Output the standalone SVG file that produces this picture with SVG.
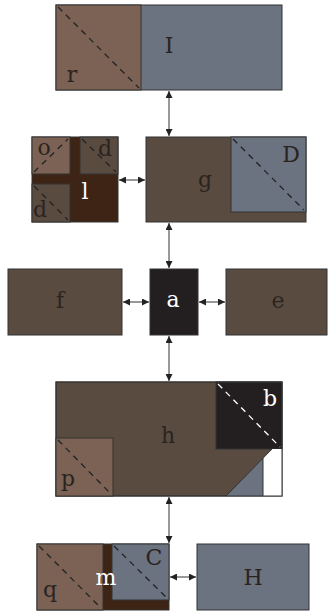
<svg xmlns="http://www.w3.org/2000/svg" width="328" height="611" viewBox="0 0 328 611">
<defs>
<marker id="ah" viewBox="0 0 10 10" refX="10" refY="5" markerWidth="7" markerHeight="7" orient="auto-start-reverse" markerUnits="userSpaceOnUse">
<path d="M0,0 L10,5 L0,10 z" fill="#222"/>
</marker>
<style>
.b{stroke:#333;stroke-width:1}
.dk{fill:#5a4b41}
.lt{fill:#7b6254}
.gr{fill:#6b7280}
.br{fill:#3e2415}
.bk{fill:#231f20}
.ds{stroke:#222;stroke-width:1.3;stroke-dasharray:6 5;fill:none}
.dw{stroke:#fff;stroke-width:1.3;stroke-dasharray:6 5;fill:none}
text{font-family:"DejaVu Serif","Liberation Serif",serif;font-size:22px;fill:#2a2420;text-anchor:middle}
.w{fill:#fff}
.c{stroke:#333;stroke-width:1;fill:none;marker-start:url(#ah);marker-end:url(#ah)}
</style>
</defs>
<g id="connectors">
<line class="c" x1="169" y1="91" x2="169" y2="136"/>
<line class="c" x1="169" y1="223" x2="169" y2="268"/>
<line class="c" x1="169" y1="336" x2="169" y2="381"/>
<line class="c" x1="169" y1="497" x2="169" y2="543"/>
<line class="c" x1="119" y1="180" x2="145" y2="180"/>
<line class="c" x1="123" y1="302" x2="149" y2="302"/>
<line class="c" x1="199" y1="302" x2="225" y2="302"/>
<line class="c" x1="170" y1="577" x2="196" y2="577"/>
</g>
<g id="node-I">
<rect class="b gr" x="56" y="5" width="226" height="85"/>
<rect class="b lt" x="56" y="5" width="85" height="85"/>
<line class="ds" x1="58" y1="7" x2="139" y2="88"/>
<text x="169" y="53">I</text>
<text x="72" y="82">r</text>
</g>
<g id="node-l">
<rect class="b br" x="32" y="137" width="86" height="85"/>
<rect class="b lt" x="32" y="137" width="38" height="37"/>
<line class="ds" x1="34" y1="172" x2="68" y2="139"/>
<rect class="b dk" x="80" y="137" width="38" height="37"/>
<line class="ds" x1="82" y1="139" x2="116" y2="172"/>
<rect class="b dk" x="32" y="184" width="38" height="38"/>
<line class="ds" x1="34" y1="186" x2="68" y2="220"/>
<text x="44" y="155">o</text>
<text x="105" y="156">d</text>
<text x="40" y="217">d</text>
<text class="w" x="85" y="199">l</text>
</g>
<g id="node-g">
<rect class="b dk" x="146" y="137" width="160" height="85"/>
<rect class="b gr" x="231" y="137" width="75" height="75"/>
<line class="ds" x1="233" y1="139" x2="304" y2="210"/>
<text x="205" y="187">g</text>
<text x="291" y="162">D</text>
</g>
<g id="node-f">
<rect class="b dk" x="8" y="269" width="114" height="66"/>
<text x="60" y="308">f</text>
</g>
<g id="node-a">
<rect class="b bk" x="150" y="269" width="48" height="66"/>
<text class="w" x="173" y="307">a</text>
</g>
<g id="node-e">
<rect class="b dk" x="226" y="269" width="101" height="66"/>
<text x="278" y="308">e</text>
</g>
<g id="node-h">
<rect class="b dk" x="56" y="382" width="226" height="114"/>
<rect class="b bk" x="216" y="382" width="66" height="67"/>
<line class="dw" x1="218" y1="384" x2="280" y2="447"/>
<polygon fill="#6b7280" points="226,496 263,458 263,496"/>
<polygon fill="#ffffff" points="263,458 272,449 282,449 282,496 263,496"/>
<line stroke="#333" stroke-width="1" x1="226" y1="496" x2="272" y2="449"/>
<line stroke="#333" stroke-width="1" x1="263" y1="458" x2="263" y2="496"/>
<rect class="b" fill="none" x="56" y="382" width="226" height="114"/>
<rect class="b lt" x="56" y="438" width="57" height="58"/>
<line class="ds" x1="58" y1="440" x2="111" y2="494"/>
<text x="168" y="443">h</text>
<text class="w" x="270" y="406">b</text>
<text x="68" y="486">p</text>
</g>
<g id="node-m">
<rect class="b br" x="37" y="544" width="132" height="66"/>
<rect class="b lt" x="37" y="544" width="66" height="66"/>
<line class="ds" x1="39" y1="546" x2="101" y2="608"/>
<rect class="b gr" x="112" y="544" width="57" height="56"/>
<line class="ds" x1="114" y1="546" x2="167" y2="598"/>
<text x="50" y="597">q</text>
<text class="w" x="106" y="585">m</text>
<text x="154" y="565">C</text>
</g>
<g id="node-H">
<rect class="b gr" x="197" y="544" width="112" height="66"/>
<text x="253" y="585">H</text>
</g>
</svg>
